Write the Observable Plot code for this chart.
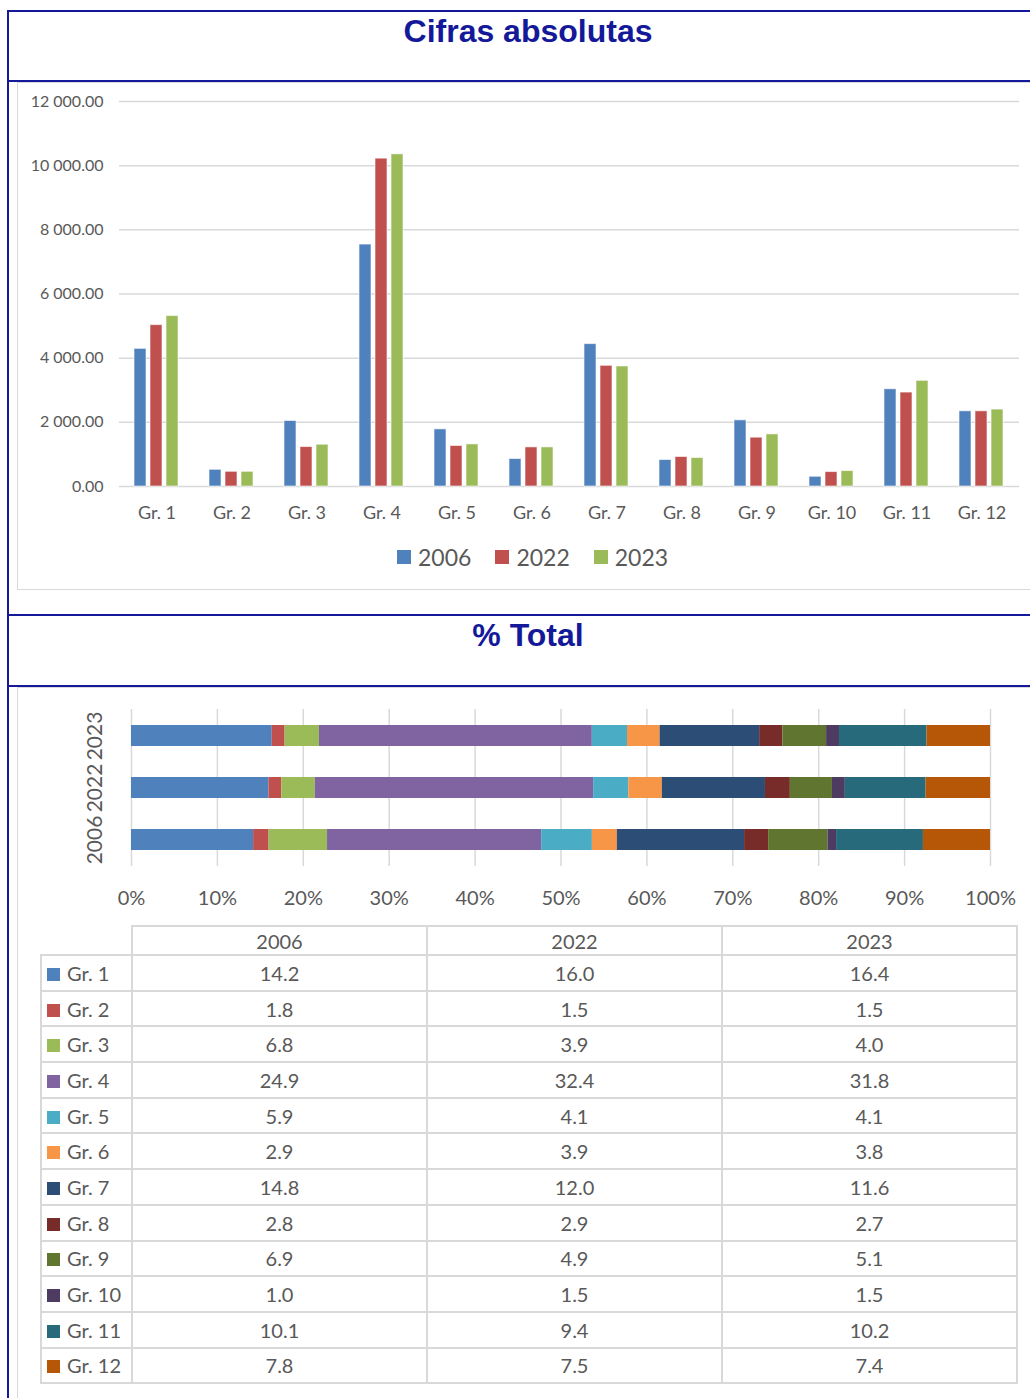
<!DOCTYPE html>
<html><head><meta charset="utf-8">
<script src="https://cdn.jsdelivr.net/npm/d3@7"></script>
<script src="https://cdn.jsdelivr.net/npm/@observablehq/plot@0.6"></script>
<style>
html,body{margin:0;padding:0;background:#fff;}
#page{position:relative;width:1030px;height:1398px;overflow:hidden;font-family:Lato,"Open Sans",sans-serif;color:#595959;}
.blue{position:absolute;background:#14199A;}
.box{position:absolute;border:1px solid #d9d9d9;box-sizing:border-box;}
.title{position:absolute;left:528px;transform:translateX(-50%);font-family:"Liberation Sans",Arial,sans-serif;font-weight:bold;font-size:32px;line-height:36px;color:#14199A;white-space:nowrap;}
#legend{position:absolute;left:397px;top:543px;height:28px;display:flex;align-items:center;font-size:23px;}
#legend .item{display:flex;align-items:center;margin-right:24px;}
#legend .sw{width:14px;height:14px;margin-right:7px;}
#chart1,#chart2{position:absolute;left:0;}
#chart1{top:82px;} #chart2{top:687px;}
#tbl{position:absolute;left:40px;top:925px;border-collapse:collapse;font-size:20px;line-height:1;color:#595959;table-layout:fixed;}
#tbl td,#tbl th{border:2px solid #d9d9d9;padding:0;font-weight:normal;text-align:center;}
#tbl th{height:27px;}
#tbl td{height:33.7px;}
#tbl td.lab{text-align:left;padding-left:5px;white-space:nowrap;}
#tbl .sq{display:inline-block;width:13px;height:13px;margin-right:7px;vertical-align:0px;}
</style></head>
<body><div id="page">
<div class="box" style="left:17px;top:82px;width:1030px;height:508px;"></div>
<div class="box" style="left:17px;top:687px;width:1030px;height:760px;"></div>
<div class="blue" style="left:7px;top:10px;width:1023px;height:2px;"></div>
<div class="blue" style="left:7px;top:10px;width:2px;height:1388px;"></div>
<div class="blue" style="left:7px;top:80px;width:1023px;height:2px;"></div>
<div class="blue" style="left:7px;top:614px;width:1023px;height:2px;"></div>
<div class="blue" style="left:7px;top:685px;width:1023px;height:2px;"></div>
<div class="title" style="top:13px;">Cifras absolutas</div>
<div class="title" style="top:617px;">% Total</div>
<div id="chart1"></div>
<div id="legend"></div>
<div id="chart2"></div>
<table id="tbl"></table>
</div>
<script>
// ---- data ----
const groups = ["Gr. 1","Gr. 2","Gr. 3","Gr. 4","Gr. 5","Gr. 6","Gr. 7","Gr. 8","Gr. 9","Gr. 10","Gr. 11","Gr. 12"];
const years = ["2006","2022","2023"];
const abs2006 = [4290, 520, 2041, 7541, 1781, 856, 4438, 825, 2062, 303, 3031, 2344];
const abs2022 = [5030, 458, 1229, 10219, 1262, 1219, 3762, 919, 1522, 450, 2928, 2344];
const abs2023 = [5313, 458, 1302, 10354, 1312, 1219, 3741, 887, 1625, 481, 3293, 2397];
const pct2006 = [14.2, 1.8, 6.8, 24.9, 5.9, 2.9, 14.8, 2.8, 6.9, 1.0, 10.1, 7.8];
const pct2022 = [16.0, 1.5, 3.9, 32.4, 4.1, 3.9, 12.0, 2.9, 4.9, 1.5, 9.4, 7.5];
const pct2023 = [16.4, 1.5, 4.0, 31.8, 4.1, 3.8, 11.6, 2.7, 5.1, 1.5, 10.2, 7.4];
const absTicks = [0, 2000, 4000, 6000, 8000, 10000, 12000];
const pctTicks = [0, 10, 20, 30, 40, 50, 60, 70, 80, 90, 100];
const yearColors = ["#4F81BD", "#C0504D", "#9BBB59"];
const groupColors = ["#4F81BD","#C0504D","#9BBB59","#8064A2","#4BACC6","#F79646","#2C4D75","#772C2A","#5F7530","#4D3B62","#276A7C","#B65708"];

const absByYear = [abs2006, abs2022, abs2023];
const pctByYear = [pct2006, pct2022, pct2023];
const absData = groups.flatMap((g, i) => years.map((y, j) => ({g, year: y, v: absByYear[j][i]})));
const pctData = years.flatMap((y, j) => groups.map((g, i) => ({g, year: y, v: pctByYear[j][i]})));
const fmtAbs = d => d3.format(",.2f")(d).replace(/,/g, " ");

// ---- chart 1 ----
const c1 = Plot.plot({
  width: 1030, height: 450,
  marginLeft: 116, marginRight: 8, marginTop: 19, marginBottom: 46,
  style: {background: "transparent", color: "#595959", fontFamily: "Lato, sans-serif"},
  fx: {domain: groups, padding: 0, label: null, axis: null},
  x: {domain: years, paddingInner: 0.22, paddingOuter: 0.82, axis: null},
  y: {domain: [0, 12000], axis: null},
  color: {domain: years, range: yearColors},
  marks: [
    Plot.gridY(absTicks, {stroke: "#d9d9d9", strokeOpacity: 1, strokeWidth: 1.5}),
    Plot.barY(absData, {fx: "g", x: "year", y: "v", fill: "year", stroke: "#fff", strokeOpacity: 0.6, strokeWidth: 1}),
    Plot.axisY(absTicks, {anchor: "left", tickSize: 0, tickPadding: 16, tickFormat: fmtAbs, fontSize: 16, label: null}),
    Plot.axisFx({anchor: "bottom", tickSize: 0, tickPadding: 20, fontSize: 18, label: null})
  ]
});
document.getElementById("chart1").appendChild(c1);

// legend
const leg = document.getElementById("legend");
years.forEach((y, j) => {
  const it = document.createElement("div"); it.className = "item";
  const sw = document.createElement("div"); sw.className = "sw"; sw.style.background = yearColors[j];
  const t = document.createElement("span"); t.textContent = y;
  it.appendChild(sw); it.appendChild(t); leg.appendChild(it);
});

// ---- chart 2 ----
const c2 = Plot.plot({
  width: 1030, height: 238,
  marginLeft: 131, marginRight: 40, marginTop: 22, marginBottom: 59,
  style: {background: "transparent", color: "#595959", fontFamily: "Lato, sans-serif"},
  x: {domain: [0, 1], axis: null},
  y: {domain: ["2023", "2022", "2006"], paddingInner: 0.6, paddingOuter: 0.3, axis: null},
  color: {domain: groups, range: groupColors},
  marks: [
    Plot.gridX(pctTicks.map(d => d / 100), {stroke: "#d9d9d9", strokeOpacity: 1, strokeWidth: 1.5}),
    Plot.barX(pctData, Plot.stackX({x: "v", y: "year", fill: "g", offset: "normalize"})),
    Plot.axisX(pctTicks.map(d => d / 100), {anchor: "bottom", tickSize: 0, tickPadding: 24, tickFormat: d3.format(".0%"), fontSize: 20, label: null}),
    Plot.text(years, {y: d => d, text: d => d, frameAnchor: "left", dx: -36, rotate: -90, fontSize: 21, textAnchor: "middle", lineAnchor: "middle", fill: "#595959"})
  ]
});
document.getElementById("chart2").appendChild(c2);

// ---- table ----
const tbl = document.getElementById("tbl");
const cg = document.createElement("colgroup");
[91, 295, 295, 295].forEach(w => { const c = document.createElement("col"); c.style.width = w + "px"; cg.appendChild(c); });
tbl.appendChild(cg);
const hr = document.createElement("tr");
const h0 = document.createElement("th"); h0.style.borderTop = "none"; h0.style.borderLeft = "none"; hr.appendChild(h0);
years.forEach(y => { const th = document.createElement("th"); th.textContent = y; hr.appendChild(th); });
tbl.appendChild(hr);
groups.forEach((g, i) => {
  const tr = document.createElement("tr");
  const td = document.createElement("td"); td.className = "lab";
  const sq = document.createElement("span"); sq.className = "sq"; sq.style.background = groupColors[i];
  td.appendChild(sq); td.appendChild(document.createTextNode(g));
  tr.appendChild(td);
  pctByYear.forEach(arr => { const c = document.createElement("td"); c.textContent = arr[i].toFixed(1); tr.appendChild(c); });
  tbl.appendChild(tr);
});
</script>
</body></html>
